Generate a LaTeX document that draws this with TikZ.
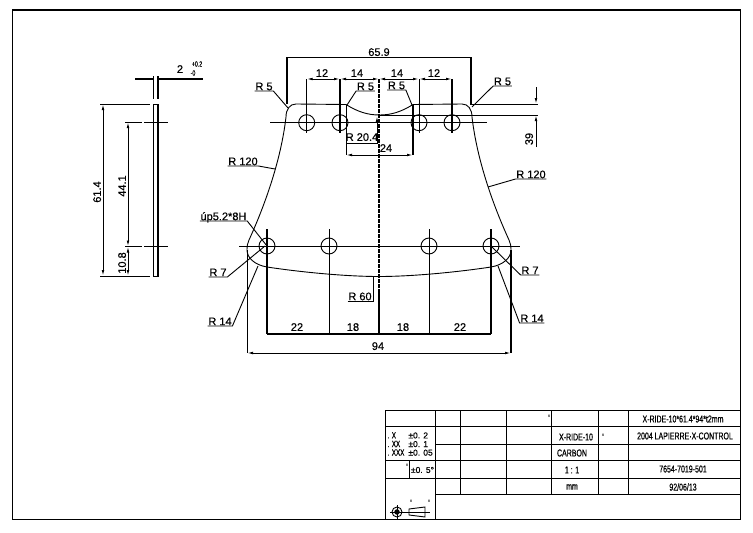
\documentclass[tikz,border=0pt]{standalone}
\usepackage{fontspec}
\setmainfont[FakeBold=0.5]{Liberation Sans}
\newfontfamily\cadfont[FakeStretch=0.7,FakeBold=0.5]{Liberation Sans}
\usetikzlibrary{arrows.meta, positioning, matrix}
\tikzset{
	line/.style={line width=0.9pt},
	heavy/.style={line width=1.5pt},
	thinline/.style={line width=0.7pt},
	dim/.style={line width=0.9pt, {Latex[length=6pt,width=2.6pt]}-{Latex[length=6pt,width=2.6pt]}},
	hole/.style={circle, draw, line width=0.9pt, minimum size=16pt, inner sep=0pt},
	dimtext/.style={font=\fontsize{11}{11}\selectfont, inner sep=0.6pt, text height=7.8pt, text depth=0pt},
	cell/.style={font=\cadfont\fontsize{10}{10}\selectfont, inner sep=0pt},
	smalltol/.style={font=\cadfont\fontsize{7.5}{7.5}\selectfont, inner sep=0pt},
}
\begin{document}
\begin{tikzpicture}[x=1pt, y=-1pt]
	\useasboundingbox (0,0) rectangle (753,533);
	\draw[line width=1.2pt] (12.5,10) rectangle (740.5,519.5);

	% holes
	\foreach \name/\xpos in {ha/306.7, hb/340, hc/419, hd/452}
		\node[hole] (\name) at (\xpos,122.7) {};
	\foreach \name/\xpos in {ka/267, kb/329, kc/429, kd/491}
		\node[hole] (\name) at (\xpos,246) {};

	% plate outline
	\draw[line]
		(296,104) -- (346,104.5)
		.. controls (358,112) and (368,115) .. (379.5,115)
		.. controls (391,115) and (401,112) .. (413,104.5)
		-- (462,104) .. controls (468,104) and (472,109) .. (472,117)
		.. controls (477,160) and (493,205) .. (509,240)
		.. controls (510.5,243) and (511,246) .. (511,250)
		.. controls (511,258) and (503,265) .. (491,267)
		.. controls (458,272) and (413,276.5) .. (379,276.5)
		.. controls (345,276.5) and (300,272) .. (267,267)
		.. controls (255,265) and (247,258) .. (247,250)
		.. controls (247,246) and (247.5,243) .. (249,240)
		.. controls (265,205) and (281,160) .. (286,117)
		.. controls (286,109) and (290,104) .. (296,104) -- cycle;

	% centre lines
	\coordinate (cl) at (270,122.7);
	\coordinate (cr) at (487,122.7);
	\coordinate (dl) at (239,246);
	\coordinate (dr) at (520,246);
	\draw[thinline] (cl) -- (cr);
	\draw[thinline] (dl) -- (dr);
	\coordinate (top) at (379,79);
	\coordinate (mid) at (379,290);
	\coordinate (low) at (379,334);
	\draw[line width=1.1pt, dash pattern=on 4pt off 1pt] (top) -- (mid);
	\draw[heavy] (mid) -- (low);

	% overall width 65.9
	\coordinate (wa) at (287,57.5);
	\coordinate (wb) at (471,57.5);
	\coordinate (wc) at (287,104);
	\coordinate (wd) at (471,104);
	\draw[heavy] (wc) -- (wa) -- (wb) -- (wd);
	\node[dimtext] (w659) at (379,52) {65.9};

	% top hole spacing
	\foreach \name/\xpos in {ua/306.7, ub/340, uc/419, ud/452} {
		\coordinate (\name) at (\xpos,79);
		\coordinate (\name-end) at (\xpos,133);
	}
	\draw[line] (ua) -- (ua-end);
	\draw[heavy] (ub) -- (ub-end);
	\draw[line] (uc) -- (uc-end);
	\draw[heavy] (ud) -- (ud-end);
	\draw[dim] (ua) -- (ub);
	\draw[dim] (ub) -- (top);
	\draw[dim] (top) -- (uc);
	\draw[dim] (uc) -- (ud);
	\node[dimtext] (ta) at (322,73) {12};
	\node[dimtext] (tb) at (357,73) {14};
	\node[dimtext] (tc) at (397,73) {14};
	\node[dimtext] (td) at (434,73) {12};

	% notch 24
	\coordinate (na) at (346,104.5);
	\coordinate (nb) at (413,104.5);
	\coordinate (nc) at (346,155);
	\coordinate (nd) at (413,155);
	\draw[line] (na) -- (nc);
	\draw[heavy] (nb) -- (nd);
	\draw[dim] (nc) -- (nd);
	\node[dimtext] (n24) at (386,148) {24};
	\coordinate (ra) at (346,143);
	\coordinate (rb) at (377,143);
	\coordinate (rc) at (377,116);
	\draw[line, -{Latex[length=6pt,width=2.6pt]}] (ra) -- (rb) -- (rc);
	\node[dimtext] (r204) at (362,137) {R 20.4};

	% height 3.9
	\coordinate (ea) at (470,104);
	\coordinate (eb) at (538,104);
	\coordinate (ec) at (380,115);
	\coordinate (ed) at (538,115);
	\coordinate (ee) at (536,87);
	\coordinate (ef) at (536,147);
	\coordinate (eg) at (536,104);
	\coordinate (eh) at (536,115);
	\draw[line] (ea) -- (eb);
	\draw[line] (ec) -- (ed);
	\draw[line, -{Latex[length=6pt,width=2.6pt]}] (ee) -- (eg);
	\draw[line, -{Latex[length=6pt,width=2.6pt]}] (ef) -- (eh);
	\node[dimtext, rotate=90] (h39) at (529,139) {39};

	% radius leaders
	\foreach \name/\xpos/\ypos/\txt/\tipx/\tipy in {
		lra/264/91/R 5/288/108,
		lrb/365.5/91/R 5/347/105,
		lrc/396.5/90/R 5/412/105,
		lrd/502.5/86/R 5/472/107,
		lre/243/166/R 120/275/169,
		lrf/531/179/R 120/488/187,
		lrg/218/277/R 7/265/246,
		lrh/530/275/R 7/492/247,
		lri/220/326/R 14/258/266,
		lrj/532/323/R 14/498/266,
		lrk/360/301/R 60/373/277,
		lrl/223.5/221/úp5.2*8H/267/246} {
		\node[dimtext, anchor=south] (\name) at (\xpos,\ypos) {\txt};
		\coordinate (\name-tip) at (\tipx,\tipy);
	}
	\foreach \name in {lra, lrc, lre, lrg, lri, lrl}
		\draw[line] (\name.south west) -- (\name.south east) -- (\name-tip);
	\foreach \name in {lrb, lrd, lrf, lrh, lrj}
		\draw[line] (\name.south east) -- (\name.south west) -- (\name-tip);
	\coordinate (lrkb) at (373,301);
	\draw[line] (lrk.south west) -- (lrkb) -- (lrk-tip);

	% bottom dimensions
	\foreach \name/\xpos in {ba/267, bb/329, bc/429, bd/491} {
		\coordinate (\name) at (\xpos,334);
		\coordinate (\name-up) at (\xpos,229);
	}
	\draw[heavy] (ba) -- (ba-up);
	\draw[line] (bb) -- (bb-up);
	\draw[line] (bc) -- (bc-up);
	\draw[heavy] (bd) -- (bd-up);
	\draw[heavy] (ba) -- (bd);
	\node[dimtext] (sa) at (297,327) {22};
	\node[dimtext] (sb) at (353,327) {18};
	\node[dimtext] (sc) at (403,327) {18};
	\node[dimtext] (sd) at (460,327) {22};
	\coordinate (oa) at (247,250);
	\coordinate (ob) at (511,250);
	\coordinate (oc) at (247,353);
	\coordinate (od) at (511,353);
	\draw[line] (oa) -- (oc);
	\draw[heavy] (ob) -- (od);
	\draw[dim] (oc) -- (od);
	\node[dimtext] (o94) at (378,346) {94};

	% side view
	\draw[line] (153,104) rectangle (158,276);
	\draw[heavy] (158,104) -- (158,276);
	\coordinate (va) at (100,104);
	\coordinate (vb) at (150,104);
	\coordinate (vc) at (100,276);
	\coordinate (vd) at (150,276);
	\coordinate (ve) at (125,122);
	\coordinate (vf) at (168,122);
	\coordinate (vg) at (125,246.5);
	\coordinate (vh) at (168,246.5);
	\coordinate (vi) at (103,104);
	\coordinate (vj) at (103,276);
	\coordinate (vk) at (128,122);
	\coordinate (vl) at (128,246.5);
	\coordinate (vm) at (128,276);
	\draw[line] (va) -- (vb);
	\draw[line] (vc) -- (vd);
	\draw[line, dash pattern=on 17pt off 2pt on 22pt off 0pt] (ve) -- (vf);
	\draw[line, dash pattern=on 17pt off 2pt on 22pt off 0pt] (vg) -- (vh);
	\draw[dim] (vi) -- (vj);
	\draw[dim] (vk) -- (vl);
	\draw[dim] (vl) -- (vm);
	\node[dimtext, rotate=90] (v614) at (97,192) {61.4};
	\node[dimtext, rotate=90] (v441) at (122,186) {44.1};
	\node[dimtext, rotate=90] (v108) at (122,263) {10.8};

	% thickness
	\coordinate (ga) at (153,76);
	\coordinate (gb) at (153,99);
	\coordinate (gc) at (158,76);
	\coordinate (gd) at (158,99);
	\coordinate (ge) at (135,79);
	\coordinate (gf) at (153,79);
	\coordinate (gg) at (158,79);
	\coordinate (gh) at (203,79);
	\draw[thinline] (ga) -- (gb);
	\draw[heavy] (gc) -- (gd);
	\draw[heavy] (ge) -- (gf);
	\draw[heavy] (gg) -- (gh);
	\node[dimtext] (g2) at (180,69) {2};
	\node[smalltol] (gp) at (197,64) {+0.2};
	\node[smalltol] (gm) at (193,73) {-0};

	% title block
	\draw[line] (385,410.5) -- (740.5,410.5);
	\draw[line] (385,426.7) -- (740.5,426.7);
	\draw[line] (435,444.3) -- (740.5,444.3);
	\draw[line] (385,460.7) -- (740.5,460.7);
	\draw[line] (385,478.3) -- (740.5,478.3);
	\draw[line] (435,494) -- (740.5,494);
	\draw[line] (385,410.5) -- (385,519.5);
	\draw[line] (435,410.5) -- (435,519.5);
	\draw[line] (409,460.7) -- (409,478.3);
	\foreach \xpos in {460.7, 506.7, 551.7, 598, 628}
		\draw[line] (\xpos,410.5) -- (\xpos,494);

	\matrix[%
		matrix of nodes, ampersand replacement=\&, anchor=west, inner sep=0pt,
		column sep=4pt, row sep=2.6pt,
		column 1/.style={nodes={anchor=west, inner sep=0pt, text height=6pt, text depth=0pt, font=\cadfont\fontsize{9}{9}\selectfont}},
		column 2/.style={nodes={anchor=west, inner sep=0pt, text height=6pt, text depth=0pt, font=\fontsize{8.5}{8.5}\selectfont}},
		] (tol) at (387.5,444) {
		. X \& ±0. 2\\
		. XX \& ±0. 1\\
		. XXX \& ±0. 05\\
	};
	\node[inner sep=0pt, font=\fontsize{8.5}{8.5}\selectfont] (tolb) at (422.5,470) {±0. 5°};
	\node[cell] (ca) at (683,419) {X-RIDE-10*61.4*94*t2mm};
	\node[cell] (cb) at (576,437) {X-RIDE-10};
	\node[cell] (cc) at (685,436) {2004 LAPIERRE·X-CONTROL};
	\node[cell] (cd) at (572,453) {CARBON};
	\node[cell] (ce) at (572,470) {1 : 1};
	\node[cell] (cf) at (683,469) {7654-7019-501};
	\node[cell] (cg) at (572,487) {mm};
	\node[cell] (ch) at (683,487) {92/06/13};
	\node[cell] (ma) at (549,418) {'};
	\node[cell] (mb) at (603,437) {'};
	\node[cell] (mc) at (407,467) {'};
	\node[cell] (md) at (411,503) {'};
	\node[cell] (me) at (429,503) {'};

	% projection symbol
	\node[circle, draw, line width=0.9pt, minimum size=10pt, inner sep=0pt] (pa) at (397,512) {};
	\node[circle, draw, fill=black, line width=0.9pt, minimum size=4.5pt, inner sep=0pt] (pb) at (397,512) {};
	\coordinate (pc) at (430,512);
	\coordinate (pd) at (390,512);
	\coordinate (pe) at (397,505);
	\coordinate (pf) at (397,519);
	\draw[line] (pd) -- (pc);
	\draw[line] (pe) -- (pf);
	\draw[line] (409,509) -- (425,507) -- (425,517) -- (409,515) -- cycle;
\end{tikzpicture}
\end{document}
